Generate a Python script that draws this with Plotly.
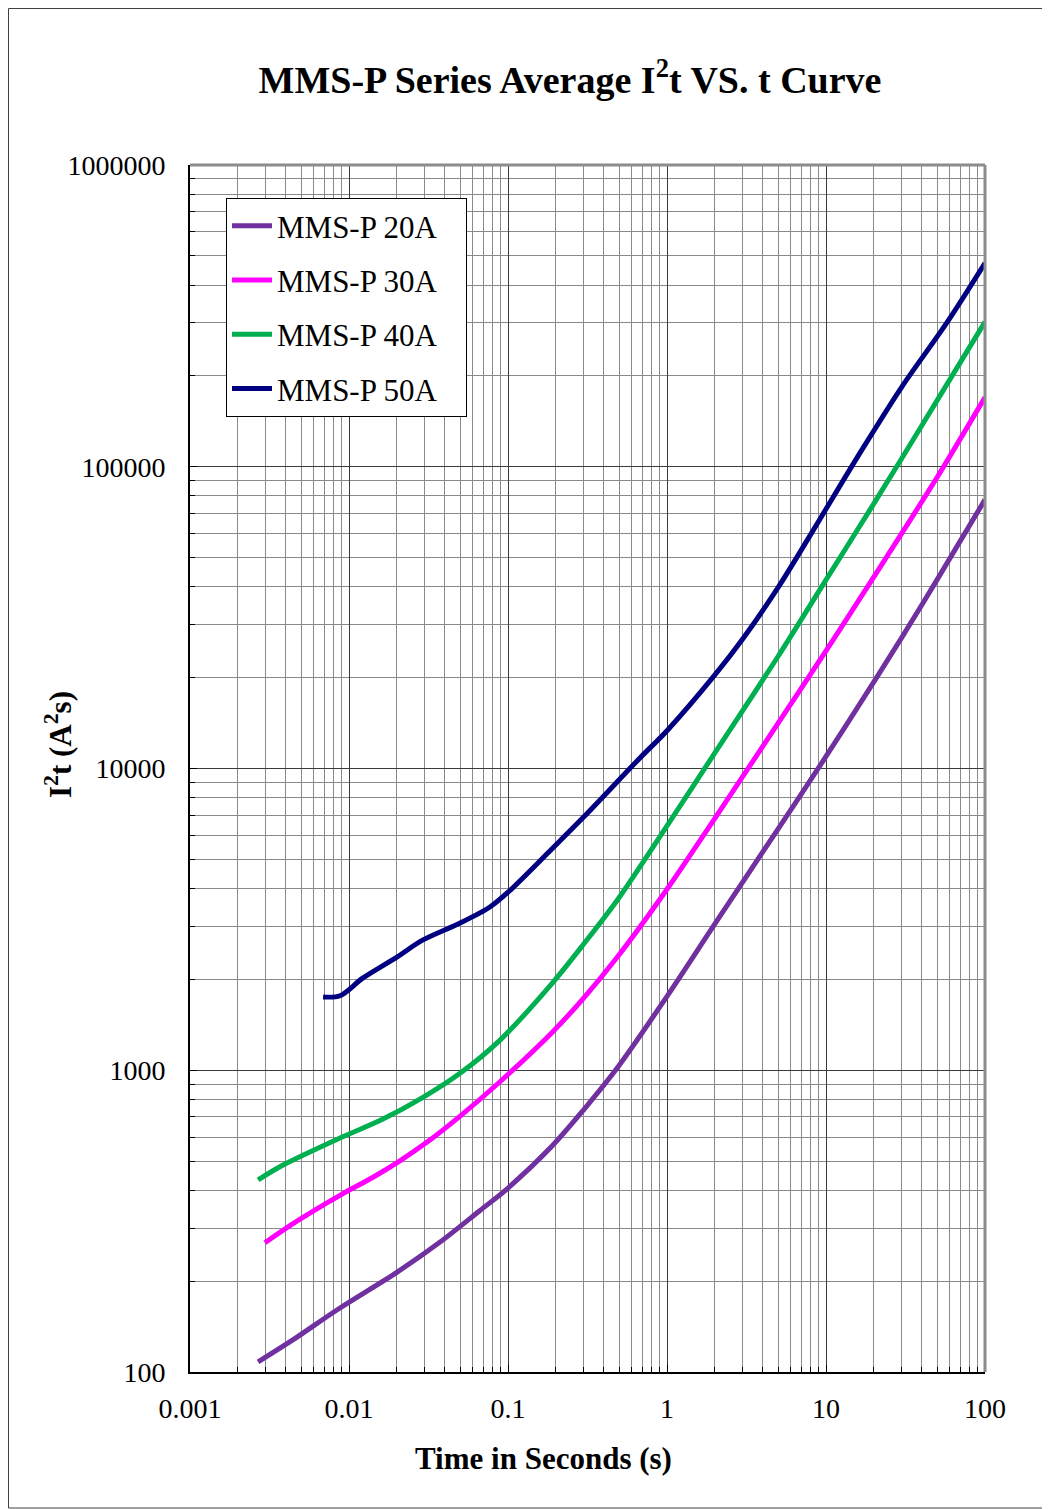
import plotly.graph_objects as go

# ---- data ----
series_names = ["MMS-P 20A", "MMS-P 30A", "MMS-P 40A", "MMS-P 50A"]
series_colors = ["#7030A0", "#FF00FF", "#00B050", "#000080"]

t_20a = [0.00268, 0.00426, 0.00877, 0.02, 0.0372, 0.0667, 0.1, 0.19, 0.3, 0.49, 1, 2, 5, 10, 20, 30, 50, 100]
i2t_20a = [108, 126, 163, 214, 269, 343, 407, 562, 741, 1023, 1758, 3055, 6310, 10960, 19360, 27200, 42250, 77800]

t_30a = [0.00296, 0.0047, 0.00877, 0.01416, 0.0209, 0.031, 0.05, 0.089, 0.19, 0.3, 0.49, 1, 2, 5, 10, 20, 30, 50, 100]
i2t_30a = [268, 316, 385, 442, 501, 578, 705, 916, 1337, 1738, 2382, 3980, 6840, 14130, 24550, 43150, 60260, 92260, 169800]

t_40a = [0.00268, 0.00385, 0.00877, 0.01637, 0.02917, 0.0499, 0.0891, 0.19, 0.3, 0.49, 1, 2, 5, 10, 20, 30, 50, 100]
i2t_40a = [433, 485, 596, 689, 813, 977, 1259, 1945, 2624, 3681, 6457, 11270, 23550, 42170, 75510, 106700, 165960, 302000]

t_50a = [0.00687, 0.00877, 0.01225, 0.02, 0.029, 0.05, 0.077, 0.1, 0.19, 0.3, 0.676, 1, 2, 3, 5, 8, 10, 17, 30, 58, 100]
i2t_50a = [1750, 1766, 2023, 2371, 2698, 3076, 3475, 3890, 5433, 6918, 10840, 13340, 20420, 26920, 39810, 59570, 72440, 114800, 184100, 302000, 473200]

x_tickvals = [0.001, 0.01, 0.1, 1, 10, 100]
x_ticktext = ["0.001", "0.01", "0.1", "1", "10", "100"]
y_tickvals = [100, 1000, 10000, 100000, 1000000]
y_ticktext = ["100", "1000", "10000", "100000", "1000000"]

title_text = "MMS-P Series Average I<sup>2</sup>t VS. t Curve"
x_title = "Time in Seconds (s)"
y_title = "I<sup>2</sup>t (A<sup>2</sup>s)"

FONT = "Liberation Serif, Times New Roman, serif"

all_t = [t_20a, t_30a, t_40a, t_50a]
all_y = [i2t_20a, i2t_30a, i2t_40a, i2t_50a]

fig = go.Figure()
for name, color, tx, ty in zip(series_names, series_colors, all_t, all_y):
    fig.add_trace(go.Scatter(
        x=tx, y=ty, name=name + "\u00a0\u00a0\u00a0", mode="lines",
        line=dict(color=color, width=5, shape="spline", smoothing=0.9),
        legendgroup=name,
    ))

OFF = 8  # page body margin
W, H = 1042, 1501
L, T = 182, 157
pw, ph = 795, 1207
R = W - L - pw
B = H - T - ph

def px_to_paper_x(px):
    return (px - OFF - L) / pw

def px_to_paper_y(py):
    return (T + ph - (py - OFF)) / ph

fig.update_layout(
    width=W, height=H,
    margin=dict(l=L, r=R, t=T, b=B),
    paper_bgcolor="white", plot_bgcolor="white",
    font=dict(family=FONT, color="black", size=28),
    title=dict(text=title_text, x=(570 - OFF) / W, xanchor="center",
               y=1 - (80 - OFF) / H, yanchor="middle",
               font=dict(family=FONT, size=38, color="black", weight="bold")),
    showlegend=True,
    legend=dict(
        x=px_to_paper_x(226), y=px_to_paper_y(198), xanchor="left", yanchor="top",
        bgcolor="white", bordercolor="black", borderwidth=1,
        font=dict(family=FONT, size=31, color="black"),
        tracegroupgap=11, itemwidth=40,
    ),
)

fig.update_xaxes(
    type="log", range=[-3, 2],
    tickvals=x_tickvals, ticktext=x_ticktext,
    tickfont=dict(family=FONT, size=28, color="black"),
    showgrid=True, gridcolor="#3a3a3a", gridwidth=1,
    showline=True, linecolor="black", linewidth=2,
    ticks="inside", ticklen=7, tickcolor="black",
    ticklabelstandoff=10,
    minor=dict(dtick="D1", showgrid=True, gridcolor="#8a8a8a", gridwidth=1,
               ticks="inside", ticklen=5, tickcolor="black"),
    zeroline=False,
)
fig.update_yaxes(
    type="log", range=[2, 6],
    tickvals=y_tickvals, ticktext=y_ticktext,
    tickfont=dict(family=FONT, size=28, color="black"),
    showgrid=True, gridcolor="#3a3a3a", gridwidth=1,
    showline=True, linecolor="black", linewidth=2,
    ticks="inside", ticklen=7, tickcolor="black",
    ticklabelstandoff=17,
    minor=dict(dtick="D1", showgrid=True, gridcolor="#8a8a8a", gridwidth=1,
               ticks="inside", ticklen=5, tickcolor="black"),
    zeroline=False,
)

# axis titles
fig.add_annotation(text=x_title, xref="paper", yref="paper",
                   x=px_to_paper_x(543), y=px_to_paper_y(1458),
                   xanchor="center", yanchor="middle", showarrow=False,
                   font=dict(family=FONT, size=31, color="black", weight="bold"))
fig.add_annotation(text=y_title, xref="paper", yref="paper",
                   x=px_to_paper_x(58), y=px_to_paper_y(745),
                   xanchor="center", yanchor="middle", showarrow=False, textangle=-90,
                   font=dict(family=FONT, size=31, color="black", weight="bold"))

# top / right frame of the plot area (gray) and outer chart border
fig.add_shape(type="line", xref="paper", yref="paper", x0=0, x1=1, y0=1, y1=1,
              line=dict(color="#8c8c8c", width=3))
fig.add_shape(type="line", xref="paper", yref="paper", x0=1, x1=1, y0=0, y1=1,
              line=dict(color="#8c8c8c", width=3))
fig.add_shape(type="rect", xref="paper", yref="paper",
              x0=(0.5 - L) / pw, x1=(W - 2 - L) / pw,
              y0=(T + ph - (H - 1)) / ph, y1=(T + ph - 0.5) / ph,
              line=dict(color="#404040", width=1), layer="below")

fig.write_html("out.html")
